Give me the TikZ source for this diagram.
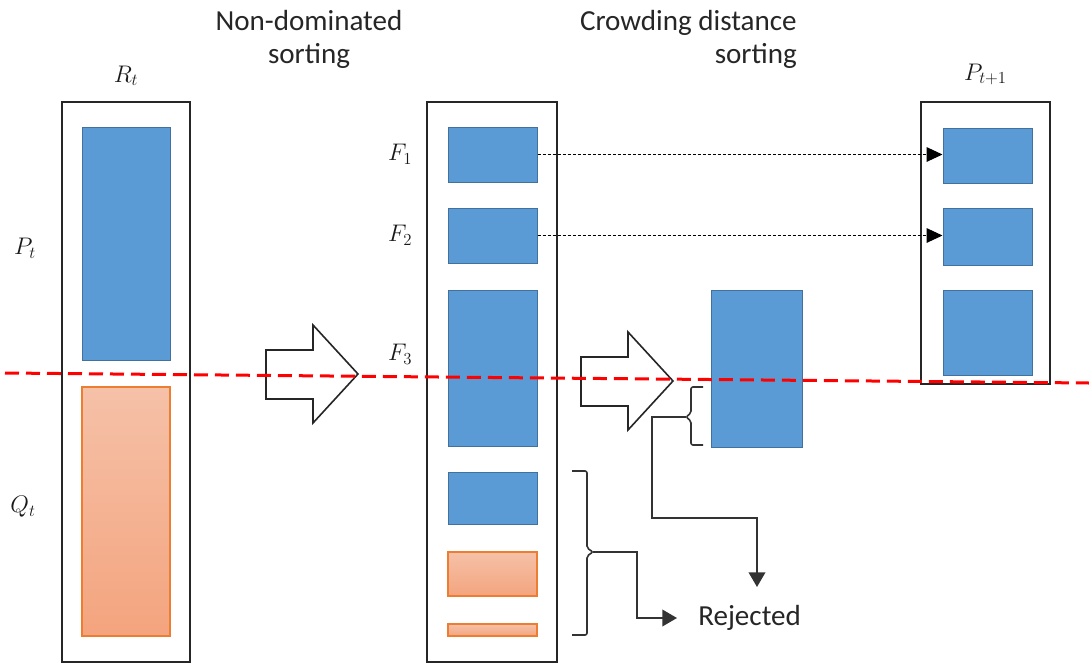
\documentclass[tikz,border=0pt]{standalone}
\usepackage{fix-cm}
\usepackage{fontspec}
\setmainfont{Carlito}
\usepackage{tikz}
\usetikzlibrary{arrows.meta}
\usetikzlibrary{positioning}
\usetikzlibrary{fit}
\newlength\px
\setlength\px{0.75pt}
\definecolor{blkblue}{HTML}{5B9BD5}
\definecolor{blkedge}{HTML}{41719C}
\definecolor{orgtop}{HTML}{F5C1A8}
\definecolor{orgbot}{HTML}{F4A47E}
\definecolor{orgedge}{HTML}{ED7D31}
\definecolor{cutred}{HTML}{FF0000}
\tikzset{
  popbox/.style={draw=black!85, line width=1.6\px, inner sep=0pt},
  blueblk/.style={fill=blkblue, draw=blkedge, line width=1\px, inner sep=0pt},
  orangeblk/.style={top color=orgtop, bottom color=orgbot, draw=orgedge, line width=1.2\px, inner sep=0pt},
  bigarrow/.style={draw=black!85, line width=1.6\px, fill=white, line join=miter},
  brk/.style={draw=black!80, line width=1.6\px, rounded corners=2\px},
  conn/.style={draw=black!80, line width=1.6\px, -{Triangle[length=11pt,width=12.5pt]}},
  dasharr/.style={draw=black, line width=1.1\px, dash pattern=on 3\px off 2\px, -{Triangle[length=12pt,width=11pt]}},
  cutline/.style={draw=cutred, line width=3\px, dash pattern=on 14\px off 7\px},
  lbl/.style={text=black!85, inner sep=0pt, font=\fontsize{21.8}{24.8}\selectfont},
  mathlbl/.style={text=black!90, inner sep=0pt, font=\fontsize{18}{22}\selectfont}
}
\begin{document}
\begin{tikzpicture}[x=0.75pt, y=-0.75pt]
  \useasboundingbox (0,0) rectangle (1089,664);

  % R_t = P_t + Q_t
  \node[popbox, fit={(62,102) (190,662)}] (rbox) {};
  \node[blueblk, fit={(82,127) (170,360)}] (pt) {};
  \node[orangeblk, fit={(82,387) (170,636)}] (qt) {};
  \node[mathlbl, above=15\px of rbox] (rtlbl) {$R_t$};
  \node[mathlbl] (ptlbl) at (25,248) {$P_t$};
  \node[mathlbl] (qtlbl) at (23,507) {$Q_t$};

  % fronts
  \node[popbox, fit={(427,102) (557,662)}] (fbox) {};
  \node[blueblk, fit={(448,127) (537,182)}] (f1) {};
  \node[blueblk, fit={(448,208) (537,263)}] (f2) {};
  \node[blueblk, fit={(448,290) (537,446)}] (f3) {};
  \node[blueblk, fit={(448,472) (537,524)}] (f4) {};
  \node[orangeblk, fit={(448,552) (537,596)}] (f5) {};
  \node[orangeblk, fit={(448,624) (537,636)}] (f6) {};
  \node[mathlbl, left=35\px of f1] (f1lbl) {$F_1$};
  \node[mathlbl, left=35\px of f2] (f2lbl) {$F_2$};
  \node[mathlbl, left=35\px of f3, yshift=14\px] (f3lbl) {$F_3$};

  % F_3 after crowding distance
  \node[blueblk, fit={(711,290) (802,447)}] (cd) {};

  % P_{t+1}
  \node[popbox, fit={(921,102) (1050,384)}] (pbox) {};
  \node[blueblk, fit={(943,128) (1032,183)}] (p1) {};
  \node[blueblk, fit={(943,208) (1032,265)}] (p2) {};
  \node[blueblk, fit={(943,290) (1032,375)}] (p3) {};
  \node[mathlbl, above=16\px of pbox] (pnlbl) {$P_{t+1}$};

  \node[lbl, align=center] (ndlbl) at (309,39) {Non-dominated\\sorting};
  \node[lbl, align=right, anchor=east] (cdlbl) at (797,39) {Crowding distance\\sorting};
  \node[lbl, anchor=west] (rej) at (698,618) {Rejected};

  % block arrows
  \foreach \dx/\dy in {0/0, 315/7}
    \draw[bigarrow, shift={(\dx,\dy)}] (266,350) -- (313,350) -- (313,325) -- (358,374)
      -- (313,423) -- (313,399) -- (266,399) -- cycle;

  \draw[dasharr] (f1.east) -- (f1.east -| p1.west);
  \draw[dasharr] (f2.east) -- (f2.east -| p2.west);

  % brackets
  \draw[brk] (703,387) -- (691,387) -- (691,413) -- (686,417) -- (691,421) -- (691,445) -- (703,445);
  \coordinate (b1) at (686,417);
  \draw[brk] (572,471) -- (587,471) -- (587,548) -- (593,552) -- (587,556) -- (587,635) -- (572,635);
  \coordinate (b2) at (593,552);
  \coordinate (rj) at (757,587);

  \draw[conn] (b1) -| (652,518) -| (rj);
  \draw[conn, shorten >=21\px] (b2) -| (637,618) -- (rej.west);

  \draw[cutline] (5,373) -- (1089,383);
\end{tikzpicture}
\end{document}
